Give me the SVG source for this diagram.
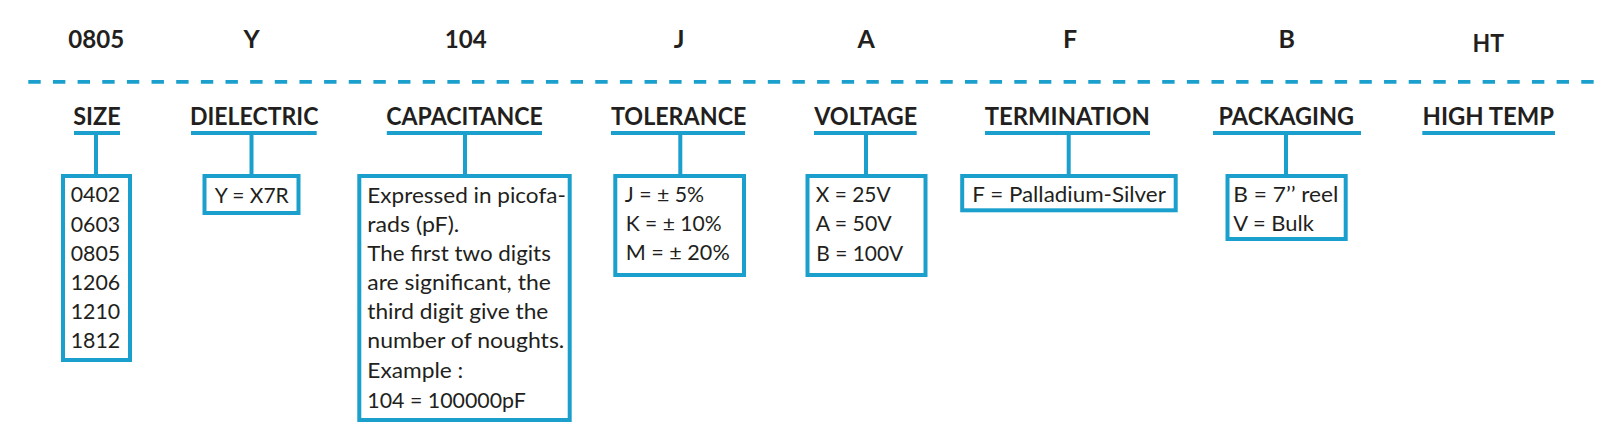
<svg xmlns="http://www.w3.org/2000/svg" width="1620" height="441" viewBox="0 0 1620 441">
<style>
.code{font-family:Lato,"Open Sans","Liberation Sans",sans-serif;font-weight:700;font-size:25px;fill:#231F20;text-anchor:middle}
.lbl{font-family:Lato,"Open Sans","Liberation Sans",sans-serif;font-weight:700;font-size:25px;fill:#231F20;text-anchor:middle}
.t{font-family:Lato,"Open Sans","Liberation Sans",sans-serif;font-size:21.5px;fill:#231F20}
.box{fill:none;stroke:#1BA0CD;stroke-width:4}
.ul{stroke:#1BA0CD;stroke-width:4}
.conn{stroke:#1BA0CD;stroke-width:4}
.dash{stroke:#1BA0CD;stroke-width:3.8;stroke-dasharray:12.4 12.25}
</style>
<rect width="1620" height="441" fill="#FFFFFF"/>
<g id="divider">
<line class="dash" x1="28.3" y1="81.8" x2="1594" y2="81.8"/>
</g>
<g id="connectors">
<line class="conn" x1="96" y1="135" x2="96" y2="174"/>
<line class="conn" x1="251.5" y1="135" x2="251.5" y2="174"/>
<line class="conn" x1="465" y1="135" x2="465" y2="174"/>
<line class="conn" x1="680.3" y1="135" x2="680.3" y2="174"/>
<line class="conn" x1="866" y1="135" x2="866" y2="174"/>
<line class="conn" x1="1068.7" y1="135" x2="1068.7" y2="174"/>
<line class="conn" x1="1286" y1="135" x2="1286" y2="174"/>
</g>
<g id="node-size">
<text class="code" x="96.2" y="48.3" textLength="56" lengthAdjust="spacingAndGlyphs">0805</text>
<text class="lbl" x="97" y="125.3" textLength="47.5" lengthAdjust="spacingAndGlyphs">SIZE</text>
<line class="ul" x1="74" y1="133" x2="120" y2="133"/>
<rect class="box" x="63" y="176" width="67" height="184"/>
<text class="t" x="70.7" y="202.3" textLength="49.5" lengthAdjust="spacingAndGlyphs">0402</text>
<text class="t" x="70.7" y="231.5" textLength="49.5" lengthAdjust="spacingAndGlyphs">0603</text>
<text class="t" x="70.7" y="260.5" textLength="49.5" lengthAdjust="spacingAndGlyphs">0805</text>
<text class="t" x="70.7" y="289.5" textLength="49.5" lengthAdjust="spacingAndGlyphs">1206</text>
<text class="t" x="70.7" y="318.8" textLength="49.5" lengthAdjust="spacingAndGlyphs">1210</text>
<text class="t" x="70.7" y="348.3" textLength="49.5" lengthAdjust="spacingAndGlyphs">1812</text>
</g>
<g id="node-dielectric">
<text class="code" x="251.7" y="48.3">Y</text>
<text class="lbl" x="254.2" y="125.3" textLength="128.5" lengthAdjust="spacingAndGlyphs">DIELECTRIC</text>
<line class="ul" x1="191" y1="133" x2="316.7" y2="133"/>
<rect class="box" x="204.5" y="176" width="94" height="37"/>
<text class="t" x="214.7" y="202.7" textLength="74" lengthAdjust="spacingAndGlyphs">Y = X7R</text>
</g>
<g id="node-capacitance">
<text class="code" x="465.7" y="48.3" textLength="42" lengthAdjust="spacingAndGlyphs">104</text>
<text class="lbl" x="464.6" y="125.3" textLength="156.5" lengthAdjust="spacingAndGlyphs">CAPACITANCE</text>
<line class="ul" x1="386.8" y1="133" x2="542" y2="133"/>
<rect class="box" x="359.3" y="176" width="210.4" height="244"/>
<text class="t" x="367.3" y="202.7" textLength="198.5" lengthAdjust="spacingAndGlyphs">Expressed in picofa-</text>
<text class="t" x="367.3" y="231.7" textLength="92" lengthAdjust="spacingAndGlyphs">rads (pF).</text>
<text class="t" x="367.3" y="260.7" textLength="183.5" lengthAdjust="spacingAndGlyphs">The first two digits</text>
<text class="t" x="367.3" y="290" textLength="183.5" lengthAdjust="spacingAndGlyphs">are significant, the</text>
<text class="t" x="367.3" y="319.3" textLength="181" lengthAdjust="spacingAndGlyphs">third digit give the</text>
<text class="t" x="367.3" y="348.3" textLength="197" lengthAdjust="spacingAndGlyphs">number of noughts.</text>
<text class="t" x="367.3" y="378.3" textLength="96" lengthAdjust="spacingAndGlyphs">Example :</text>
<text class="t" x="367.3" y="408.3" textLength="158.5" lengthAdjust="spacingAndGlyphs">104 = 100000pF</text>
</g>
<g id="node-tolerance">
<text class="code" x="679" y="48.3">J</text>
<text class="lbl" x="678.7" y="125.3" textLength="135.5" lengthAdjust="spacingAndGlyphs">TOLERANCE</text>
<line class="ul" x1="611" y1="133" x2="745" y2="133"/>
<rect class="box" x="615.3" y="176" width="128.7" height="99"/>
<text class="t" x="624.7" y="201.7" textLength="79.5" lengthAdjust="spacingAndGlyphs">J = ± 5%</text>
<text class="t" x="625.7" y="230.9" textLength="96" lengthAdjust="spacingAndGlyphs">K = ± 10%</text>
<text class="t" x="625.7" y="260.2" textLength="104" lengthAdjust="spacingAndGlyphs">M = ± 20%</text>
</g>
<g id="node-voltage">
<text class="code" x="866.3" y="48.3">A</text>
<text class="lbl" x="865.7" y="125.3" textLength="103" lengthAdjust="spacingAndGlyphs">VOLTAGE</text>
<line class="ul" x1="814" y1="133" x2="916.7" y2="133"/>
<rect class="box" x="807.5" y="176" width="118" height="99"/>
<text class="t" x="815.7" y="201.7" textLength="75" lengthAdjust="spacingAndGlyphs">X = 25V</text>
<text class="t" x="815.7" y="231" textLength="76" lengthAdjust="spacingAndGlyphs">A = 50V</text>
<text class="t" x="816.3" y="260.5" textLength="87" lengthAdjust="spacingAndGlyphs">B = 100V</text>
</g>
<g id="node-termination">
<text class="code" x="1070" y="48.3">F</text>
<text class="lbl" x="1067.3" y="125.3" textLength="165" lengthAdjust="spacingAndGlyphs">TERMINATION</text>
<line class="ul" x1="985" y1="133" x2="1150" y2="133"/>
<rect class="box" x="962.2" y="176" width="213.5" height="34.3"/>
<text class="t" x="972.3" y="201.7" textLength="193.5" lengthAdjust="spacingAndGlyphs">F = Palladium-Silver</text>
</g>
<g id="node-packaging">
<text class="code" x="1286.7" y="48.3">B</text>
<text class="lbl" x="1286.3" y="125.3" textLength="135.5" lengthAdjust="spacingAndGlyphs">PACKAGING</text>
<line class="ul" x1="1213" y1="133" x2="1361" y2="133"/>
<rect class="box" x="1227.5" y="176" width="118.2" height="63"/>
<text class="t" x="1233.3" y="201.7" textLength="105" lengthAdjust="spacingAndGlyphs">B = 7’’ reel</text>
<text class="t" x="1233.3" y="230.7" textLength="80.5" lengthAdjust="spacingAndGlyphs">V = Bulk</text>
</g>
<g id="node-hightemp">
<text class="code" x="1488.3" y="52.3" textLength="31.5" lengthAdjust="spacingAndGlyphs">HT</text>
<text class="lbl" x="1488.3" y="125.3" textLength="131.5" lengthAdjust="spacingAndGlyphs">HIGH TEMP</text>
<line class="ul" x1="1422.3" y1="133" x2="1555" y2="133"/>
</g>
</svg>
